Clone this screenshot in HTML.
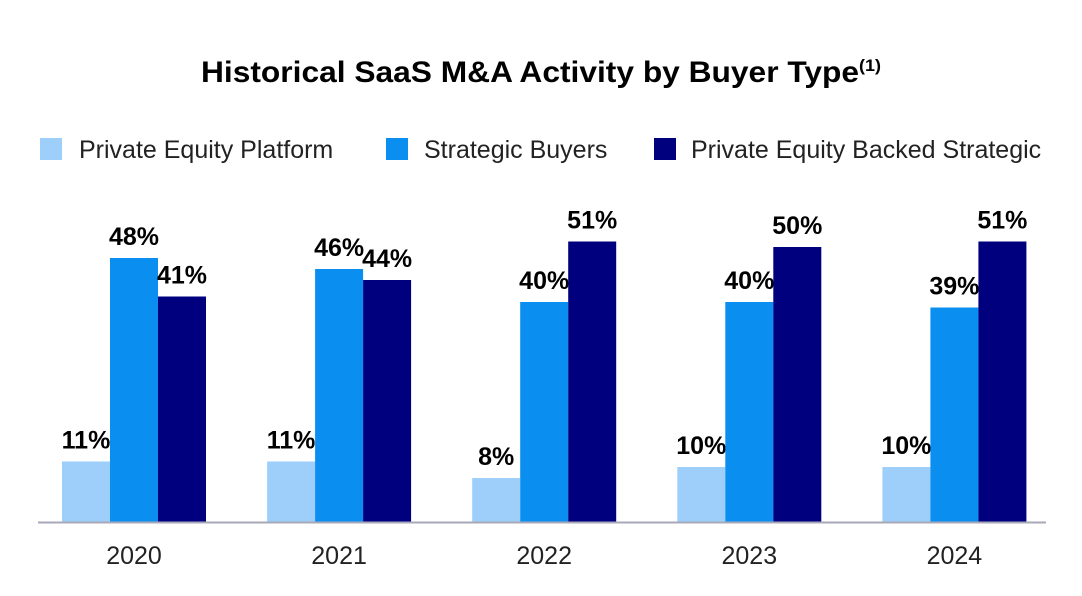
<!DOCTYPE html>
<html><head><meta charset="utf-8"><style>
body{margin:0;background:#fff;font-family:"Liberation Sans",Arial,sans-serif}
svg{display:block}
</style></head><body>
<svg id="chart" width="1082" height="596">
<text x="541" y="82" text-anchor="middle" font-size="30" font-weight="bold" fill="#000" textLength="680" lengthAdjust="spacingAndGlyphs">Historical SaaS M&amp;A Activity by Buyer Type<tspan font-size="17" dy="-11">(1)</tspan></text>
<g>
<rect x="40" y="138" width="22" height="22" fill="#9dcffa"/>
<text x="79" y="158" font-size="25" fill="#222">Private Equity Platform</text>
<rect x="386" y="138" width="22" height="22" fill="#0a8ef0"/>
<text x="424" y="158" font-size="25" fill="#222">Strategic Buyers</text>
<rect x="654" y="138" width="22" height="22" fill="#00007f"/>
<text x="691" y="158" font-size="25" fill="#222">Private Equity Backed Strategic</text>
</g>
<g id="bars"></g>
<line x1="38" y1="522.5" x2="1046" y2="522.5" stroke="#a8a8b8" stroke-width="2"/>
</svg>
<script>
const categories=["2020","2021","2022","2023","2024"];
const pePlatform=[11,11,8,10,10];
const strategic=[48,46,40,40,39];
const peBacked=[41,44,51,50,51];
const seriesColors=["#9dcffa","#0a8ef0","#00007f"];
const seriesNames=["pe-platform","strategic","pe-backed"];
const ns="http://www.w3.org/2000/svg";
const g=document.getElementById("bars");
const base=522, pxPer=5.5, barW=48;
function xGroup(i){return 62+i*205.1;}
function yVal(v){return base-v*pxPer;}
const all=[pePlatform,strategic,peBacked];
categories.forEach((c,i)=>{
  all.forEach((s,k)=>{
    const v=s[i];
    const x=xGroup(i)+k*barW;
    const r=document.createElementNS(ns,"rect");
    r.setAttribute("x",x);r.setAttribute("y",yVal(v));
    r.setAttribute("width",barW);r.setAttribute("height",base-yVal(v));
    r.setAttribute("fill",seriesColors[k]);
    
    
    g.appendChild(r);
    const t=document.createElementNS(ns,"text");
    t.setAttribute("x",x+barW/2);t.setAttribute("y",yVal(v)-13);
    t.setAttribute("text-anchor","middle");t.setAttribute("font-size","25");
    t.setAttribute("font-weight","bold");t.setAttribute("fill","#000");
    t.textContent=v+"%";
    
    
    g.appendChild(t);
  });
  const l=document.createElementNS(ns,"text");
  l.setAttribute("x",xGroup(i)+barW*1.5);l.setAttribute("y",564);
  l.setAttribute("text-anchor","middle");l.setAttribute("font-size","25");l.setAttribute("fill","#222");
  l.textContent=c;
  
  
  g.appendChild(l);
});
</script>
</body></html>
